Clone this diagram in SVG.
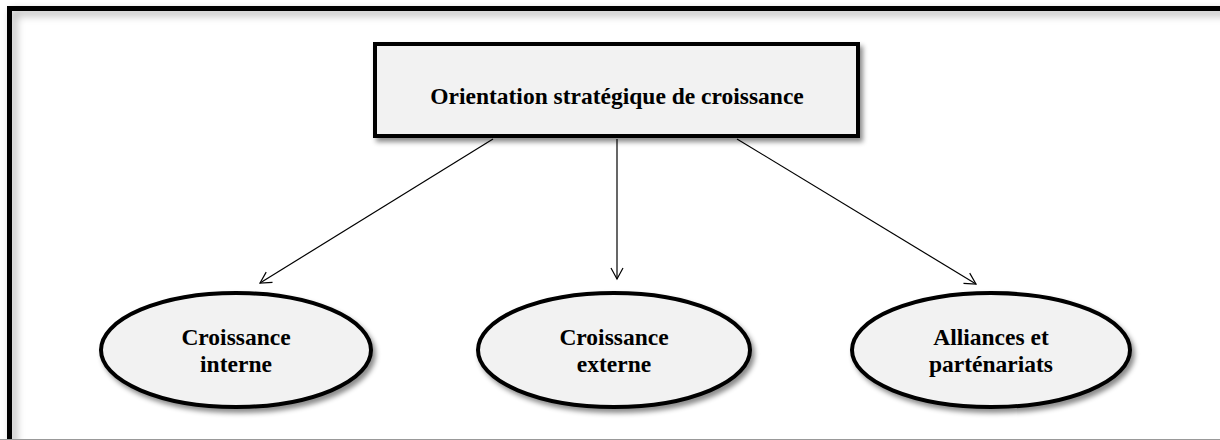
<svg xmlns="http://www.w3.org/2000/svg" width="1220" height="440" viewBox="0 0 1220 440">
<defs>
<style>
.box{fill:#f2f2f2;stroke:#000;stroke-width:4;filter:url(#sh)}
.ell{fill:#f2f2f2;stroke:#000;stroke-width:4;filter:url(#sh)}
.t{font-family:"Liberation Serif","Times New Roman",serif;font-weight:bold;font-size:23.5px;fill:#000;text-anchor:middle}
.c{stroke:#000;stroke-width:1.2;fill:none;marker-end:url(#ah)}
</style>
<filter id="sh" x="-20%" y="-20%" width="140%" height="150%">
<feDropShadow dx="3" dy="4" stdDeviation="2.5" flood-color="#000" flood-opacity="0.45"/>
</filter>
<filter id="fsh" x="-5%" y="-5%" width="110%" height="110%">
<feDropShadow dx="4" dy="4" stdDeviation="4" flood-color="#000" flood-opacity="0.35"/>
</filter>
<marker id="ah" markerWidth="14" markerHeight="14" refX="12" refY="7" orient="auto" markerUnits="userSpaceOnUse">
<path d="M1,1 L12,7 L1,13" fill="none" stroke="#000" stroke-width="1.2"/>
</marker>
</defs>
<rect x="0" y="0" width="1220" height="440" fill="#fff"/>
<g id="frame">
<rect x="9.5" y="8.5" width="1230" height="450" fill="none" stroke="#000" stroke-width="5" filter="url(#fsh)"/>
<line x1="0" y1="439.5" x2="1220" y2="439.5" stroke="#999" stroke-width="1"/>
</g>
<g id="connectors">
<line class="c" x1="493" y1="139" x2="260" y2="283"/>
<line class="c" x1="617" y1="139" x2="617" y2="279"/>
<line class="c" x1="737" y1="139" x2="976" y2="284"/>
</g>
<g id="root">
<rect class="box" x="375" y="44" width="483" height="92"/>
<text class="t" x="617" y="104">Orientation stratégique de croissance</text>
</g>
<g id="interne">
<ellipse class="ell" cx="236" cy="350" rx="135" ry="57"/>
<text class="t" x="236" y="345">Croissance</text>
<text class="t" x="236" y="372">interne</text>
</g>
<g id="externe">
<ellipse class="ell" cx="614" cy="350" rx="136" ry="57"/>
<text class="t" x="614" y="345">Croissance</text>
<text class="t" x="614" y="372">externe</text>
</g>
<g id="alliances">
<ellipse class="ell" cx="991" cy="350" rx="139" ry="57"/>
<text class="t" x="991" y="345">Alliances et</text>
<text class="t" x="991" y="372">parténariats</text>
</g>
</svg>
